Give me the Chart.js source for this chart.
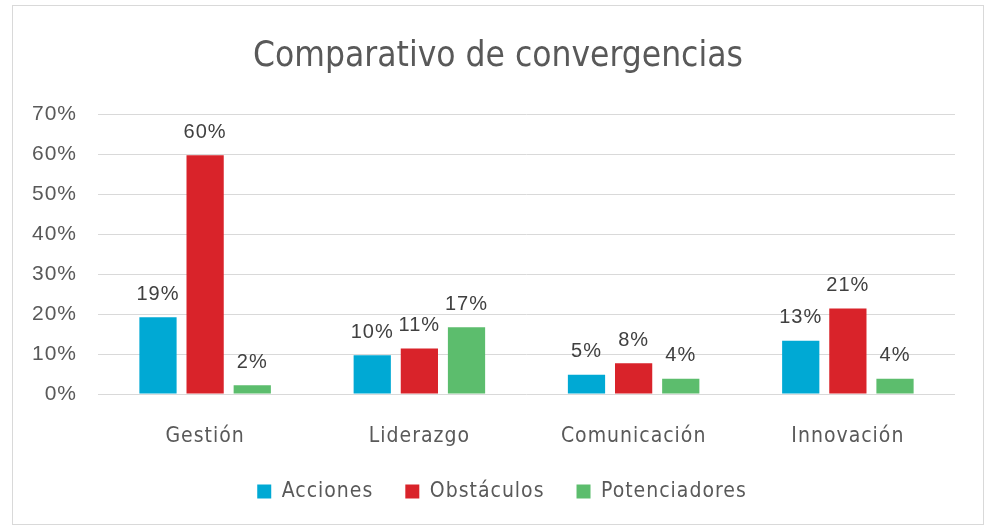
<!DOCTYPE html>
<html><head><meta charset="utf-8">
<script src="https://cdn.jsdelivr.net/npm/chart.js@4.4.1/dist/chart.umd.min.js"></script>
<style>html,body{margin:0;padding:0;background:#fff}#wrap{width:992px;height:530px}</style>
</head><body><div id="wrap"><canvas id="c" width="992" height="530"></canvas></div>
<script>
const categories = ["Gestión", "Liderazgo", "Comunicación", "Innovación"];
const acciones = [0.192, 0.097, 0.048, 0.133];
const obstaculos = [0.597, 0.114, 0.077, 0.214];
const potenciadores = [0.022, 0.167, 0.038, 0.038];
const seriesNames = ["Acciones", "Obstáculos", "Potenciadores"];
const colors = ["#00A9D4", "#D9232A", "#5CBD6D"];

function wrapDraw(chart, box, dx, spacing) {
  if (!box || box._wrapped) return;
  const orig = box.draw.bind(box);
  box.draw = function () {
    const ctx = chart.ctx;
    ctx.save();
    ctx.letterSpacing = spacing;
    ctx.translate(dx, 0);
    orig();
    ctx.restore();
  };
  box._wrapped = true;
}

const spacingPlugin = {
  id: 'spacing',
  beforeLayout(chart) {
    chart.ctx.letterSpacing = '1px';
    wrapDraw(chart, chart.titleBlock, 14, '0px');
    wrapDraw(chart, chart.legend, 18, '1px');
  },
  beforeDraw(chart) { chart.ctx.letterSpacing = '1px'; }
};

const labelPlugin = {
  id: 'dl',
  afterDatasetsDraw(chart) {
    const ctx = chart.ctx;
    ctx.save();
    ctx.font = '20px "Liberation Sans", Arial, sans-serif';
    ctx.fillStyle = '#404040';
    ctx.textAlign = 'center';
    ctx.textBaseline = 'bottom';
    chart.data.datasets.forEach((ds, i) => {
      chart.getDatasetMeta(i).data.forEach((bar, j) => {
        ctx.fillText(Math.round(ds.data[j] * 100) + '%', bar.x, bar.y - 13);
      });
    });
    ctx.restore();
  }
};
const borderPlugin = {
  id: 'frame',
  beforeDraw(chart) {
    const ctx = chart.ctx;
    ctx.save();
    ctx.fillStyle = '#fff';
    ctx.fillRect(0, 0, chart.width, chart.height);
    ctx.strokeStyle = '#d9d9d9';
    ctx.lineWidth = 1;
    ctx.strokeRect(12.5, 5.5, 971, 519);
    ctx.restore();
  }
};

new Chart(document.getElementById('c'), {
  type: 'bar',
  data: {
    labels: categories,
    datasets: [acciones, obstaculos, potenciadores].map((d, i) => ({
      label: seriesNames[i], data: d, backgroundColor: colors[i],
      categoryPercentage: 0.66, barPercentage: 0.79
    }))
  },
  options: {
    responsive: false, animation: false, devicePixelRatio: 1,
    layout: { padding: { left: 13, right: 37, top: 5, bottom: 18 } },
    plugins: {
      title: { display: true, text: 'Comparativo de convergencias', color: '#595959',
        font: { family: '"Liberation Sans Narrow", "DejaVu Sans Condensed", sans-serif', size: 35, weight: 'normal' },
        padding: { top: 31, bottom: 36 } },
      legend: { position: 'bottom',
        labels: { boxWidth: 14, boxHeight: 14, padding: 32, color: '#595959',
          font: { family: '"DejaVu Sans Condensed", sans-serif', size: 21 } } },
      tooltip: { enabled: false }
    },
    scales: {
      x: { grid: { display: false }, border: { display: false },
        afterFit(s) { s.height = 55; },
        ticks: { color: '#595959', padding: 22, font: { family: '"DejaVu Sans Condensed", sans-serif', size: 21 } } },
      y: { min: 0, max: 0.7, grid: { color: '#d9d9d9', drawTicks: false }, border: { display: false },
        afterFit(s) { s.width = 85; },
        ticks: { stepSize: 0.1, padding: 21, color: '#595959',
          font: { family: '"Liberation Sans", Arial, sans-serif', size: 21 },
          callback: v => Math.round(v * 100) + '%' } }
    }
  },
  plugins: [spacingPlugin, labelPlugin, borderPlugin]
});
</script></body></html>
